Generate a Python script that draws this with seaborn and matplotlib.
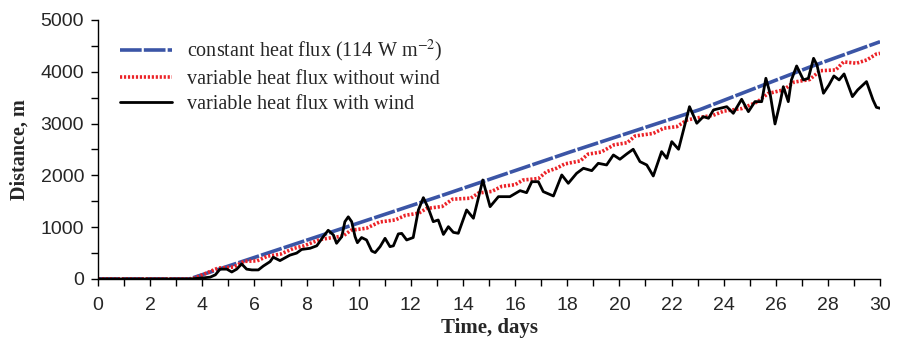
import numpy as np
import pandas as pd
import matplotlib
matplotlib.use("Agg")
import matplotlib.pyplot as plt
import seaborn as sns

# ---- data ----
const_days = [0, 3.5, 8.13, 13.12, 18.1, 23.09, 27.3, 30]
const_dist = [0, 0, 770, 1600, 2450, 3270, 4090, 4580]

nowind_days = [0, 3.6, 4.0, 4.6, 5.2, 5.6, 6.1, 6.5, 7.0, 7.5, 7.9, 8.5, 9.0, 9.4, 9.7,
               10.3, 10.8, 11.4, 11.8, 12.3, 12.6, 13.2, 13.6, 14.3, 14.6, 15.1, 15.5,
               16.0, 16.3, 16.9, 17.2, 17.6, 17.9, 18.5, 18.8, 19.3, 19.8, 20.3, 20.6,
               21.3, 21.7, 22.2, 22.6, 23.1, 23.6, 24.0, 24.7, 25.3, 25.7, 26.3, 26.7,
               27.3, 27.7, 28.3, 28.6, 29.1, 29.5, 29.85, 30]
nowind_dist = [0, 0, 80, 210, 230, 340, 350, 440, 480, 590, 640, 760, 800, 830, 940,
               980, 1100, 1140, 1230, 1270, 1360, 1400, 1540, 1560, 1660, 1690, 1790,
               1820, 1910, 1940, 2070, 2140, 2220, 2280, 2410, 2450, 2590, 2630, 2760,
               2810, 2910, 2940, 3070, 3120, 3160, 3240, 3290, 3420, 3580, 3650, 3800,
               3850, 4020, 4035, 4190, 4165, 4230, 4340, 4355]

wind_days = [0, 3.5, 3.9, 4.3, 4.5, 4.68, 4.94, 5.13, 5.32, 5.51, 5.7, 5.9, 6.15, 6.34,
             6.6, 6.72, 6.98, 7.36, 7.62, 7.81, 8.13, 8.39, 8.64, 8.83, 9.03, 9.15, 9.35,
             9.47, 9.6, 9.73, 9.86, 9.95, 10.11, 10.3, 10.5, 10.63, 10.82, 11.01, 11.2,
             11.33, 11.52, 11.65, 11.84, 12.09, 12.29, 12.48, 12.67, 12.86, 13.05, 13.25,
             13.44, 13.63, 13.82, 14.14, 14.4, 14.76, 15.04, 15.36, 15.8, 16.19, 16.44,
             16.64, 16.89, 17.08, 17.47, 17.79, 18.04, 18.36, 18.62, 18.94, 19.19, 19.51,
             19.77, 20.02, 20.28, 20.53, 20.79, 21.05, 21.3, 21.62, 21.82, 22.01, 22.27,
             22.46, 22.69, 22.97, 23.22, 23.42, 23.61, 24.12, 24.37, 24.69, 24.95, 25.2,
             25.46, 25.62, 25.78, 25.97, 26.16, 26.29, 26.48, 26.6, 26.8, 27.06, 27.25,
             27.45, 27.58, 27.83, 28.04, 28.23, 28.43, 28.62, 28.94, 29.14, 29.48, 29.73,
             29.86, 30]
wind_dist = [0, 0, 15, 35, 80, 190, 190, 135, 190, 290, 190, 175, 175, 250,
             335, 420, 355, 460, 500, 570, 592, 640, 817, 940, 849, 689, 817,
             1106, 1200, 1106, 817, 700, 800, 753, 540, 510, 624, 785, 624,
             640, 870, 880, 753, 800, 1332, 1570, 1365, 1106, 1139, 860,
             1010, 900, 882, 1332, 1172, 1911, 1396, 1589, 1589, 1705, 1666,
             1878, 1878, 1686, 1602, 2008, 1847, 2040, 2137, 2091, 2233, 2201,
             2394, 2311, 2413, 2504, 2265, 2201, 1988, 2458, 2330, 2651, 2504,
             2876, 3326, 3006, 3133, 3102, 3263, 3326, 3198, 3469, 3230, 3423,
             3423, 3874, 3585, 2992, 3391, 3712, 3423, 3842, 4112, 3842, 3874,
             4260, 4131, 3585, 3745, 3919, 3842, 3958, 3520, 3649, 3810, 3456,
             3314, 3295]

labels = ["constant heat flux (114 W m$^{-2}$)",
          "variable heat flux without wind",
          "variable heat flux with wind"]
x_ticks = list(range(0, 31, 2))
y_ticks = list(range(0, 5001, 1000))

# ---- plot ----
sns.set_style("ticks")
plt.rcParams["font.family"] = ["Liberation Sans", "DejaVu Sans"]
plt.rcParams["mathtext.fontset"] = "stix"

fig = plt.figure(figsize=(8.97, 3.44), dpi=100)
ax = fig.add_axes([0.1093, 0.189, 0.8718, 0.753])

sns.lineplot(x=const_days, y=const_dist, ax=ax, color="#3b55a6", lw=2.6,
             label=labels[0])
ax.lines[-1].set_dashes((6, 0.6))
sns.lineplot(x=nowind_days, y=nowind_dist, ax=ax, color="#ec2227", lw=2.6,
             label=labels[1])
ax.lines[-1].set_linestyle((0, (0.6, 0.5)))
sns.lineplot(x=wind_days, y=wind_dist, ax=ax, color="black", lw=2.0,
             label=labels[2])
ax.lines[-1].set_solid_joinstyle("round")

ax.set_xlim(0, 30)
ax.set_ylim(0, 5000)
ax.set_xticks(x_ticks)
ax.set_xticks(range(0, 31), minor=True)
ax.set_yticks(y_ticks)
ax.set_yticks(range(0, 5001, 500), minor=True)
ax.tick_params(axis="both", which="both", direction="out", length=5, width=1,
               color="black", labelsize=14)
ax.tick_params(axis="x", pad=8)
ax.tick_params(axis="y", pad=5)
sns.despine(ax=ax)
for s in ["left", "bottom"]:
    ax.spines[s].set_color("black")
    ax.spines[s].set_linewidth(1.0)

serif = ["Liberation Serif", "DejaVu Serif"]
ax.set_xlabel("Time, days", fontsize=15, fontweight="bold", family=serif, labelpad=3)
ax.set_ylabel("Distance, m", fontsize=14.5, fontweight="bold", family=serif, labelpad=8)

leg = ax.legend(loc="upper left", bbox_to_anchor=(0.005, 1.0), frameon=False,
                handlelength=2.6, handletextpad=0.7, labelspacing=0.3,
                prop={"family": serif, "size": 14.5})

fig.savefig("out.png", dpi=100)
